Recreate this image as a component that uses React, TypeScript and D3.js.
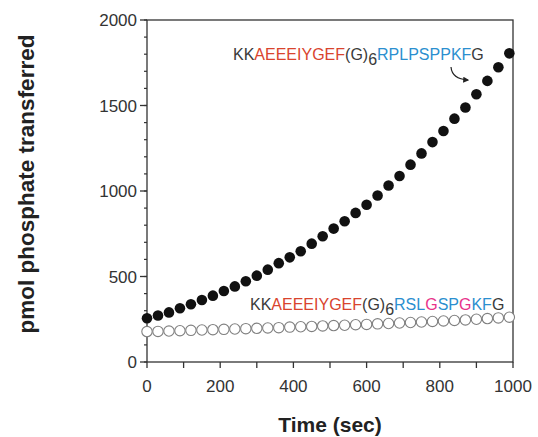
import { useEffect, useRef } from 'react';
import * as d3 from 'd3';

// time points (sec), one reading every 30 s
const times = d3.range(0, 1000, 30);

// KKAEEEIYGEF(G)6RPLPSPPKFG – filled circles
const fastSeries = [
  256, 272, 290, 314, 338, 363, 388, 415, 442, 472, 505, 540, 578, 612, 648, 692, 735,
  780, 823, 872, 920, 974, 1032, 1088, 1154, 1220, 1286, 1351, 1423, 1488, 1566, 1644,
  1724, 1805,
];

// KKAEEEIYGEF(G)6RSLGSPGKFG – open circles
const slowSeries = [
  178, 179, 181, 183, 185, 187, 189, 191, 193, 195, 197, 199, 201, 204, 206, 208, 211,
  213, 215, 218, 220, 223, 225, 228, 231, 234, 237, 240, 243, 246, 250, 254, 258, 262,
];

const xTicks = d3.range(0, 1001, 100);
const xLabels = [0, 200, 400, 600, 800, 1000];
const yMajor = [0, 500, 1000, 1500, 2000];
const yMinor = d3.range(0, 2001, 100);

const RED = '#d9442e';
const BLUE = '#2b8fcf';
const PINK = '#e8338a';
const GRAY = '#3a3a3a';

const label1 = [
  { t: 'KK', c: GRAY },
  { t: 'AEEEIYGEF', c: RED },
  { t: '(G)', c: GRAY },
  { t: '6', c: GRAY, sub: true },
  { t: 'RPLPSPPKF', c: BLUE },
  { t: 'G', c: GRAY },
];

const label2 = [
  { t: 'KK', c: GRAY },
  { t: 'AEEEIYGEF', c: RED },
  { t: '(G)', c: GRAY },
  { t: '6', c: GRAY, sub: true },
  { t: 'RSL', c: BLUE },
  { t: 'G', c: PINK },
  { t: 'SP', c: BLUE },
  { t: 'G', c: PINK },
  { t: 'KF', c: BLUE },
  { t: 'G', c: GRAY },
];

const App = () => {
  const svgRef = useRef(null);

  useEffect(() => {
    const width = 538;
    const height = 437;
    const margin = { top: 20, right: 25, bottom: 75, left: 147 };

    const svg = d3.select(svgRef.current)
      .attr('width', width)
      .attr('height', height)
      .style('position', 'absolute')
      .style('left', '0px')
      .style('top', '0px')
      .style('background-color', '#ffffff')
      .style('font-family', '"Liberation Sans", Arial, sans-serif');

    svg.selectAll('*').remove();

    const x = d3.scaleLinear().domain([0, 1000]).range([margin.left, width - margin.right]);
    const y = d3.scaleLinear().domain([0, 2000]).range([height - margin.bottom, margin.top]);

    const axisColor = '#333';

    // frame
    svg.append('rect')
      .attr('x', x(0))
      .attr('y', y(2000))
      .attr('width', x(1000) - x(0))
      .attr('height', y(0) - y(2000))
      .attr('fill', 'none')
      .attr('stroke', axisColor)
      .attr('stroke-width', 1.3);

    // x ticks
    svg.append('g').selectAll('line')
      .data(xTicks)
      .enter()
      .append('line')
      .attr('x1', d => x(d))
      .attr('x2', d => x(d))
      .attr('y1', y(0))
      .attr('y2', y(0) + 6)
      .attr('stroke', axisColor)
      .attr('stroke-width', 1.3);

    svg.append('g').selectAll('text')
      .data(xLabels)
      .enter()
      .append('text')
      .attr('x', d => x(d))
      .attr('y', y(0) + 30)
      .attr('text-anchor', 'middle')
      .style('font-size', '17px')
      .attr('fill', '#333')
      .text(d => d);

    // y ticks
    svg.append('g').selectAll('line')
      .data(yMinor)
      .enter()
      .append('line')
      .attr('x1', x(0) - 3)
      .attr('x2', x(0))
      .attr('y1', d => y(d))
      .attr('y2', d => y(d))
      .attr('stroke', axisColor)
      .attr('stroke-width', 1.2);

    svg.append('g').selectAll('line')
      .data(yMajor)
      .enter()
      .append('line')
      .attr('x1', x(0) - 7)
      .attr('x2', x(0))
      .attr('y1', d => y(d))
      .attr('y2', d => y(d))
      .attr('stroke', axisColor)
      .attr('stroke-width', 1.3);

    svg.append('g').selectAll('text')
      .data(yMajor)
      .enter()
      .append('text')
      .attr('x', x(0) - 10)
      .attr('y', d => y(d) + 6)
      .attr('text-anchor', 'end')
      .style('font-size', '17px')
      .attr('fill', '#333')
      .text(d => d);

    // open circles
    svg.append('g').selectAll('circle')
      .data(slowSeries)
      .enter()
      .append('circle')
      .attr('cx', (d, i) => x(times[i]))
      .attr('cy', d => y(d))
      .attr('r', 5.2)
      .attr('fill', 'white')
      .attr('stroke', '#808080')
      .attr('stroke-width', 1.1);

    // filled circles
    svg.append('g').selectAll('circle')
      .data(fastSeries)
      .enter()
      .append('circle')
      .attr('cx', (d, i) => x(times[i]))
      .attr('cy', d => y(d))
      .attr('r', 5.3)
      .attr('fill', '#111');

    // peptide labels
    const drawLabel = (parts, lx, ly) => {
      const t = svg.append('text')
        .attr('x', lx)
        .attr('y', ly)
        .style('font-size', '16px');
      parts.forEach((p, i) => {
        const afterSub = i > 0 && parts[i - 1].sub;
        t.append('tspan')
          .attr('fill', p.c)
          .attr('dy', p.sub ? 5 : afterSub ? -5 : 0)
          .text(p.t);
      });
    };
    drawLabel(label1, 233, 60);
    drawLabel(label2, 250, 310);

    // arrow
    svg.append('defs').append('marker')
      .attr('id', 'arrowhead')
      .attr('viewBox', '0 0 10 10')
      .attr('refX', 8)
      .attr('refY', 5)
      .attr('markerWidth', 5)
      .attr('markerHeight', 5)
      .attr('orient', 'auto')
      .append('path')
      .attr('d', 'M0,0 L10,5 L0,10 Z')
      .attr('fill', '#222');

    svg.append('path')
      .attr('d', 'M451,67 Q452,79 468,80')
      .attr('fill', 'none')
      .attr('stroke', '#222')
      .attr('stroke-width', 1.2)
      .attr('marker-end', 'url(#arrowhead)');

    // axis titles
    svg.append('text')
      .attr('x', x(500))
      .attr('y', 432)
      .attr('text-anchor', 'middle')
      .style('font-size', '21px')
      .style('font-weight', 'bold')
      .attr('fill', '#222')
      .text('Time (sec)');

    svg.append('text')
      .attr('text-anchor', 'middle')
      .attr('transform', `translate(34,184)rotate(-90)`)
      .style('font-size', '22.5px')
      .style('font-weight', 'bold')
      .attr('fill', '#222')
      .text('pmol phosphate transferred');
  }, []);

  return <svg ref={svgRef}></svg>;
};

export default App;
